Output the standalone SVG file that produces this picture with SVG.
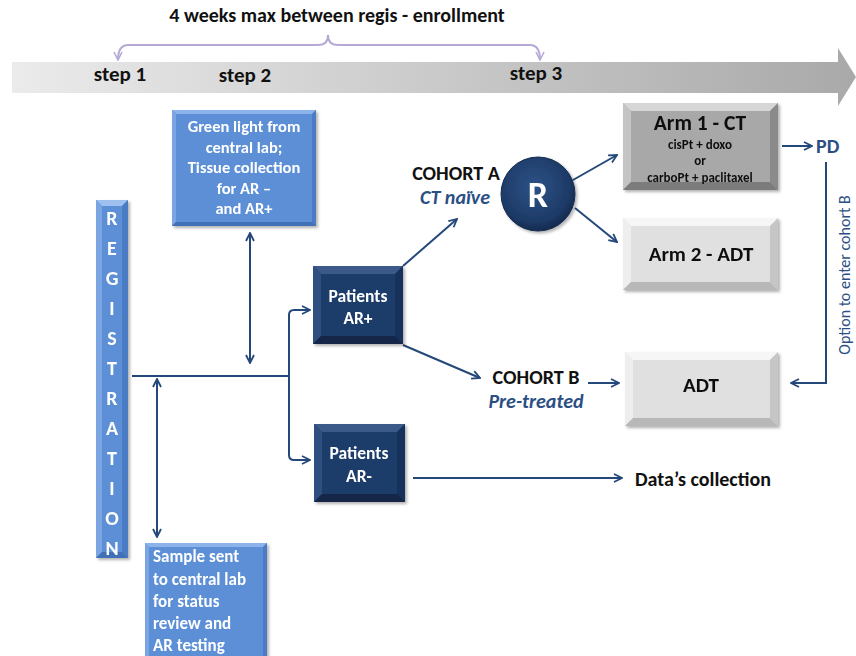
<svg xmlns="http://www.w3.org/2000/svg" width="856" height="656" viewBox="0 0 856 656">
<defs>
<linearGradient id="band" x1="0" y1="0" x2="1" y2="0">
<stop offset="0" stop-color="#ebebeb"/><stop offset="1" stop-color="#a9a9a9"/>
</linearGradient>
<radialGradient id="rg" cx="0.45" cy="0.4" r="0.6">
<stop offset="0" stop-color="#2d5288"/><stop offset="0.8" stop-color="#1d3a66"/><stop offset="1" stop-color="#142b4f"/>
</radialGradient>
<marker id="ah" viewBox="0 0 10 10" refX="9" refY="5" markerWidth="10" markerHeight="10" markerUnits="userSpaceOnUse" orient="auto-start-reverse">
<path d="M1,1 L9,5 L1,9" fill="none" stroke="#24487a" stroke-width="1.8"/>
</marker>
<marker id="ahp" viewBox="0 0 10 10" refX="9" refY="5" markerWidth="10" markerHeight="10" markerUnits="userSpaceOnUse" orient="auto">
<path d="M1,1 L9,5 L1,9" fill="none" stroke="#b7a9d6" stroke-width="1.6"/>
</marker>
<filter id="sh" x="-10%" y="-10%" width="130%" height="130%"><feDropShadow dx="2" dy="2" stdDeviation="1.5" flood-color="#000" flood-opacity="0.3"/></filter>
</defs>
<style>
text{font-family:Carlito,Calibri,"Open Sans","Liberation Sans",sans-serif;font-weight:bold}
.w{fill:#fff}
.k{fill:#111}
.bl{fill:#2b4f85}
.ln{fill:none;stroke:#24487a;stroke-width:2}
</style>

<!-- timeline band -->
<g id="timeline">
<polygon points="12,62 838,62 838,48 856,77 838,106 838,93 12,93" fill="url(#band)"/>
<path d="M328,35 Q328,45 338,45 L530,45 Q540,45 540,60" fill="none" stroke="#b7a9d6" stroke-width="2" marker-end="url(#ahp)"/>
<path d="M328,35 Q328,45 318,45 L128,45 Q118,45 118,60" fill="none" stroke="#b7a9d6" stroke-width="2" marker-end="url(#ahp)"/>
<text x="337" y="22" text-anchor="middle" font-size="20" class="k">4 weeks max between regis - enrollment</text>
<text x="120" y="81" text-anchor="middle" font-size="21" class="k">step 1</text>
<text x="245" y="82" text-anchor="middle" font-size="21" class="k">step 2</text>
<text x="536" y="80" text-anchor="middle" font-size="21" class="k">step 3</text>
</g>

<!-- connectors -->
<g id="connectors">
<line x1="132" y1="376" x2="289" y2="376" class="ln"/>
<line x1="157" y1="379" x2="157" y2="537" class="ln" marker-start="url(#ah)" marker-end="url(#ah)"/>
<line x1="250" y1="233" x2="250" y2="363" class="ln" marker-start="url(#ah)" marker-end="url(#ah)"/>
<path d="M310,310 L294,310 Q289,310 289,315 L289,455 Q289,460 294,460 L310,460" class="ln" marker-end="url(#ah)"/>
<path d="M294,310 L310,310" class="ln" marker-end="url(#ah)"/>
<line x1="403" y1="266" x2="457" y2="219" class="ln" marker-end="url(#ah)"/>
<line x1="403" y1="345" x2="480" y2="378" class="ln" marker-end="url(#ah)"/>
<line x1="573" y1="180" x2="617" y2="155" class="ln" marker-end="url(#ah)"/>
<line x1="575" y1="208" x2="617" y2="242" class="ln" marker-end="url(#ah)"/>
<line x1="782" y1="146" x2="812" y2="146" class="ln" marker-end="url(#ah)"/>
<path d="M826,162 L826,383 L791,383" class="ln" marker-end="url(#ah)"/>
<line x1="588" y1="383" x2="619" y2="383" class="ln" marker-end="url(#ah)"/>
<line x1="413" y1="478" x2="622" y2="478" class="ln" marker-end="url(#ah)"/>
</g>

<!-- green light box -->
<g id="greenlight" filter="url(#sh)">
<rect x="172" y="110" width="144" height="116" fill="#5b8fd6"/>
<polygon points="172,110 316,110 312,114 176,114" fill="#8db4ea"/>
<polygon points="172,110 176,114 176,222 172,226" fill="#7aa5e2"/>
<polygon points="316,110 316,226 312,222 312,114" fill="#4a7cc4"/>
<polygon points="172,226 316,226 312,222 176,222" fill="#3f6fb5"/>
<g font-size="16.5" text-anchor="middle">
<text x="244" y="132" class="w">Green light from</text>
<text x="244" y="153" class="w">central lab;</text>
<text x="244" y="173" class="w">Tissue collection</text>
<text x="244" y="194" class="w">for AR –</text>
<text x="244" y="214" class="w">and AR+</text>
</g>
</g>

<!-- registration -->
<g id="registration" filter="url(#sh)">
<rect x="96" y="200" width="32" height="358" fill="#5b8fd6"/>
<polygon points="96,200 128,200 122,206 102,206" fill="#9dc0ef"/>
<polygon points="96,200 102,206 102,552 96,558" fill="#7aa5e2"/>
<polygon points="128,200 128,558 122,552 122,206" fill="#4a7cc4"/>
<polygon points="96,558 128,558 122,552 102,552" fill="#3f6fb5"/>
<g font-size="20" text-anchor="middle" class="w">
<text x="112" y="225">R</text><text x="112" y="255">E</text><text x="112" y="285">G</text><text x="112" y="315">I</text>
<text x="112" y="345">S</text><text x="112" y="375">T</text><text x="112" y="405">R</text><text x="112" y="435">A</text>
<text x="112" y="465">T</text><text x="112" y="495">I</text><text x="112" y="525">O</text><text x="112" y="555">N</text>
</g>
</g>

<!-- sample box -->
<g id="sample" filter="url(#sh)">
<rect x="145" y="543" width="122" height="115" fill="#5b8fd6"/>
<polygon points="145,543 267,543 263,547 149,547" fill="#8db4ea"/>
<polygon points="145,543 149,547 149,658 145,658" fill="#7aa5e2"/>
<polygon points="267,543 267,658 263,658 263,547" fill="#4a7cc4"/>
<g font-size="17" class="w">
<text x="153" y="562">Sample sent</text>
<text x="153" y="585">to central lab</text>
<text x="153" y="607">for status</text>
<text x="153" y="629">review and</text>
<text x="153" y="651">AR testing</text>
</g>
</g>

<!-- patients AR+ -->
<g id="patients-arplus" filter="url(#sh)">
<rect x="313" y="266" width="90" height="78" fill="#1f3d6b"/>
<polygon points="313,266 403,266 395,274 321,274" fill="#3a5a8a"/>
<polygon points="313,266 321,274 321,336 313,344" fill="#2f4f7f"/>
<polygon points="403,266 403,344 395,336 395,274" fill="#17305a"/>
<polygon points="313,344 403,344 395,336 321,336" fill="#122849"/>
<text x="358" y="302" text-anchor="middle" font-size="17.5" class="w">Patients</text>
<text x="358" y="324" text-anchor="middle" font-size="17.5" class="w">AR+</text>
</g>

<!-- patients AR- -->
<g id="patients-arminus" filter="url(#sh)">
<rect x="314" y="424" width="91" height="78" fill="#1f3d6b"/>
<polygon points="314,424 405,424 397,432 322,432" fill="#3a5a8a"/>
<polygon points="314,424 322,432 322,494 314,502" fill="#2f4f7f"/>
<polygon points="405,424 405,502 397,494 397,432" fill="#17305a"/>
<polygon points="314,502 405,502 397,494 322,494" fill="#122849"/>
<text x="359" y="459" text-anchor="middle" font-size="17.5" class="w">Patients</text>
<text x="359" y="482" text-anchor="middle" font-size="17.5" class="w">AR-</text>
</g>

<!-- cohort A -->
<g id="cohortA">
<text x="456" y="180" text-anchor="middle" font-size="20" class="k">COHORT A</text>
<text x="455" y="204" text-anchor="middle" font-size="20" class="bl" font-style="italic">CT naïve</text>
</g>

<!-- R circle -->
<g id="randomize" filter="url(#sh)">
<circle cx="538" cy="194" r="37" fill="url(#rg)" stroke="#142b4f" stroke-width="1"/>
<text x="538" y="207" text-anchor="middle" font-size="36" class="w">R</text>
</g>

<!-- Arm 1 -->
<g id="arm1" filter="url(#sh)">
<rect x="623" y="103" width="155" height="87" fill="#a8a8a8"/>
<polygon points="623,103 778,103 770,111 631,111" fill="#d6d6d6"/>
<polygon points="623,103 631,111 631,182 623,190" fill="#c4c4c4"/>
<polygon points="778,103 778,190 770,182 770,111" fill="#8a8a8a"/>
<polygon points="623,190 778,190 770,182 631,182" fill="#7c7c7c"/>
<text x="700" y="130" text-anchor="middle" font-size="21.5" class="k">Arm 1 - CT</text>
<text x="700" y="149" text-anchor="middle" font-size="13" class="k">cisPt + doxo</text>
<text x="700" y="165" text-anchor="middle" font-size="13" class="k">or</text>
<text x="700" y="182" text-anchor="middle" font-size="13" class="k">carboPt + paclitaxel</text>
</g>

<!-- PD -->
<g id="pd">
<text x="816" y="153" font-size="20" class="bl">PD</text>
<text transform="translate(850,275) rotate(-90)" text-anchor="middle" font-size="16" class="bl" style="font-weight:normal">Option to enter cohort B</text>
</g>

<!-- Arm 2 -->
<g id="arm2" filter="url(#sh)">
<rect x="623" y="218" width="155" height="72" fill="#e0e0e0"/>
<polygon points="623,218 778,218 770,226 631,226" fill="#f6f6f6"/>
<polygon points="623,218 631,226 631,282 623,290" fill="#eeeeee"/>
<polygon points="778,218 778,290 770,282 770,226" fill="#c6c6c6"/>
<polygon points="623,290 778,290 770,282 631,282" fill="#b8b8b8"/>
<text x="701" y="261" text-anchor="middle" font-size="21" class="k">Arm 2 - ADT</text>
</g>

<!-- cohort B -->
<g id="cohortB">
<text x="536" y="384" text-anchor="middle" font-size="20" class="k">COHORT B</text>
<text x="536" y="408" text-anchor="middle" font-size="20" class="bl" font-style="italic">Pre-treated</text>
</g>

<!-- ADT -->
<g id="adt" filter="url(#sh)">
<rect x="625" y="352" width="153" height="74" fill="#e0e0e0"/>
<polygon points="625,352 778,352 770,360 633,360" fill="#f6f6f6"/>
<polygon points="625,352 633,360 633,418 625,426" fill="#eeeeee"/>
<polygon points="778,352 778,426 770,418 770,360" fill="#c6c6c6"/>
<polygon points="625,426 778,426 770,418 633,418" fill="#b8b8b8"/>
<text x="701" y="392" text-anchor="middle" font-size="21" class="k">ADT</text>
</g>

<!-- Data's collection -->
<g id="datacollection">
<text x="635" y="486" font-size="20" class="k">Data’s collection</text>
</g>
</svg>
